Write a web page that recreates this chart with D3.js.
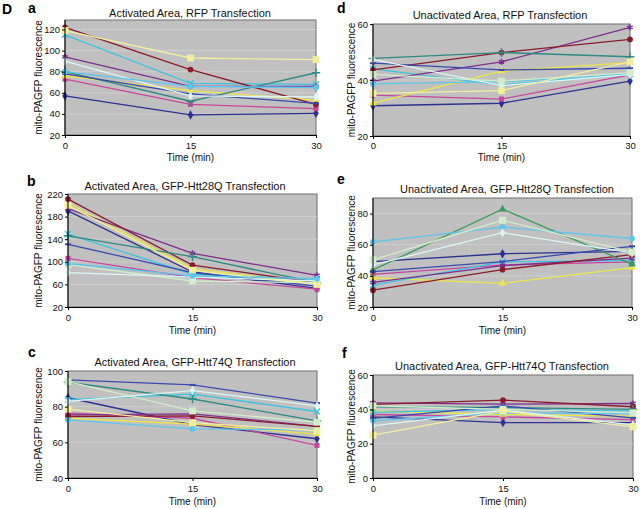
<!DOCTYPE html>
<html><head><meta charset="utf-8">
<script src="https://cdn.jsdelivr.net/npm/d3@7"></script>
<style>body{margin:0;background:#fff}svg{display:block;font-family:"Liberation Sans",Arial,sans-serif}</style>
</head><body>
<svg id="chart" width="640" height="509"></svg>
<script>
// ---- data ----
const times = [0, 15, 30];
const xTickLabels = ["0", "15", "30"];

const aKeys = ["navy","magenta","yellow","cyan","purple","darkred","teal","blue","lightcyan","lightyellow","sky"];
const aValues = [[57,39,40.5],[73,49,45],[76,62,53],[115,69,68],[94,66,66],[122,82,49],[80,52,79],[78,59,50],[90,57,56],[119,93,91.5],[80,66,65]];
const aTicks = [20,40,60,80,100,120];

const dKeys = ["navy","magenta","yellow","cyan","purple","darkred","teal","blue","sky","lightcyan","lightgreen","lightyellow"];
const dValues = [[30.8,31.7,39.6],[34.6,33.2,41.8],[31.7,43.2,46.2],[44,38.2,42.4],[39.6,46.5,58.8],[43.6,49.8,54.5],[47.7,49.8,48.3],[46,43.6,44.2],[38.6,39.4,41.8],[47.4,38,42],[42,39.6,42.6],[35.2,36.2,46.5]];
const dTicks = [20,40,60];

const bKeys = ["navy","magenta","yellow","cyan","purple","darkred","teal","blue","lightgreen","lightcyan","lightyellow","sky"];
const bValues = [[190,82,53],[106,72,51.5],[204,88,61],[149,78,69],[194,115,76],[211,94,63],[146,109,63],[131,81,57],[95,66,63],[81,73,66],[200,85,60],[97,75,70]];
const bTicks = [20,60,100,140,180,220];

const eKeys = ["navy","magenta","yellow","cyan","purple","darkred","green","blue","sky","lightcyan","lightgreen"];
const eValues = [[49.2,54.2,55.7],[41,47,49],[38.8,35.2,45.3],[34,49,50],[35.8,46.6,51.4],[30.8,44,53.6],[43.8,82.8,47.5],[42.7,49.2,59],[61.8,71.3,64],[47,67.7,54.7],[50.3,75.7,55.3]];
const eTicks = [20,40,60,80];

const cKeys = ["navy","magenta","yellow","cyan","purple","darkred","teal","blue","sky","lightcyan","lightgreen","lightyellow"];
const cValues = [[85,70,62],[76.3,73.5,58.3],[73.5,70.2,64.6],[84,87,77.3],[75.4,76,69],[74.5,74.8,69],[93.7,84.3,72],[95,92.2,82],[72.6,67.6,67],[83,89,80.4],[94,77.6,71.3],[78.6,71,66.5]];
const cTicks = [40,60,80,100];

const fKeys = ["navy","magenta","yellow","cyan","purple","darkred","teal","blue","sky","lightcyan","lightgreen","lightyellow"];
const fValues = [[35.6,32.3,32.3],[37,35.6,34],[39,37,36],[38.2,40,39],[43.8,43,43.4],[42.9,45.4,41.5],[41.5,41,40],[34.7,42,35],[33.3,38,37.5],[30.4,39.5,31],[42.1,40,38],[25,39,29.8]];
const fTicks = [0,20,40,60];

// ---- styles ----
const styles = {
  navy:{c:"#2d3191",m:"diamond"}, magenta:{c:"#c8479c",m:"square"}, yellow:{c:"#ece64a",m:"triangle"},
  cyan:{c:"#3fc3e2",m:"times"}, purple:{c:"#7e2e8e",m:"asterisk"}, darkred:{c:"#8a1d2c",m:"circle"},
  teal:{c:"#2e8a82",m:"plus"}, blue:{c:"#3a49ad",m:"dash"}, sky:{c:"#5cc6ee",m:"circle"},
  lightcyan:{c:"#dcf5f5",m:"diamond"}, lightgreen:{c:"#d3ecc9",m:"square"}, lightyellow:{c:"#f1ef9e",m:"square"},
  green:{c:"#3c9a5c",m:"triangle"}
};

const panels = [
  {L:"a",title:"Activated Area, RFP Transfection",keys:aKeys,vals:aValues,ticks:aTicks,dom:[20,129],box:[65,316,20,135],tx:190,ty:16.5,lx:28,ly:13,ylx:38,xp:4,tly:161},
  {L:"d",title:"Unactivated Area, RFP Transfection",keys:dKeys,vals:dValues,ticks:dTicks,dom:[20,60],box:[373,630,24,136],tx:500,ty:19,lx:337,ly:12.5,ylx:351,xp:3,tly:161},
  {L:"b",title:"Activated Area, GFP-Htt28Q Transfection",keys:bKeys,vals:bValues,ticks:bTicks,dom:[20,220],box:[68,317,194,307],tx:185,ty:190,lx:27,ly:186,ylx:38,xp:4,tly:333.5},
  {L:"e",title:"Unactivated Area, GFP-Htt28Q Transfection",keys:eKeys,vals:eValues,ticks:eTicks,dom:[20,90],box:[373,632,198,307],tx:507,ty:193,lx:337,ly:184,ylx:351,xp:4,tly:334},
  {L:"c",title:"Activated Area, GFP-Htt74Q Transfection",keys:cKeys,vals:cValues,ticks:cTicks,dom:[40,100],box:[68,317,371,478],tx:195,ty:366,lx:28,ly:357,ylx:38,xp:4,tly:505},
  {L:"f",title:"Unactivated Area, GFP-Htt74Q Transfection",keys:fKeys,vals:fValues,ticks:fTicks,dom:[0,60],box:[373,633,375,478],tx:502,ty:370,lx:342,ly:358,ylx:351,xp:4,tly:505}
];

const svg = d3.select("#chart");
svg.append("text").attr("x",2).attr("y",14).attr("font-size",14).attr("font-weight","bold").text("D");

const symMap = {diamond:d3.symbolDiamond,square:d3.symbolSquare,triangle:d3.symbolTriangle,circle:d3.symbolCircle,
  times:d3.symbolTimes,asterisk:d3.symbolAsterisk,plus:d3.symbolPlus};
const strokeSyms = new Set(["times","asterisk","plus"]);

panels.forEach(p => {
  const [x0,x1,y0,y1] = p.box;
  const x = d3.scaleLinear().domain([0,30]).range([x0,x1]);
  const y = d3.scaleLinear().domain(p.dom).range([y1,y0]);
  const g = svg.append("g");
  g.append("rect").attr("x",x0).attr("y",y0).attr("width",x1-x0).attr("height",y1-y0)
    .attr("fill","#c0c0c0").attr("stroke","#6e6e6e").attr("stroke-width",1);
  g.selectAll(".grid").data(p.ticks.filter(t => t!==p.dom[0] && y(t)>y0+1)).join("line")
    .attr("x1",x0).attr("x2",x1).attr("y1",d=>y(d)).attr("y2",d=>y(d))
    .attr("stroke","#d2d2d2").attr("stroke-width",0.8);

  const line = d3.line().x((d,i)=>x(times[i])).y(d=>y(d));
  p.keys.forEach((k,si) => {
    const st = styles[k]; const v = p.vals[si];
    g.append("path").attr("d",line(v)).attr("fill","none").attr("stroke",st.c).attr("stroke-width",1.3);
    v.forEach((val,i) => {
      const cx = x(times[i]), cy = y(val);
      if (st.m === "dash") {
        g.append("line").attr("x1",cx-3).attr("x2",cx+3).attr("y1",cy).attr("y2",cy).attr("stroke",st.c).attr("stroke-width",2);
      } else {
        const big = (k==="lightyellow"||k==="lightgreen") ? 48 : 26;
        const s = d3.symbol().type(symMap[st.m]).size(big);
        const el = g.append("path").attr("d",s()).attr("transform",`translate(${cx},${cy})`);
        if (strokeSyms.has(st.m)) el.attr("fill","none").attr("stroke",st.c).attr("stroke-width",1.4);
        else el.attr("fill",st.c);
      }
    });
  });

  const ya = d3.axisLeft(y).tickValues(p.ticks).tickSize(3).tickSizeOuter(0).tickPadding(2);
  const yg = svg.append("g").attr("transform",`translate(${x0},0)`).call(ya);
  yg.select(".domain").attr("stroke","#000").attr("d",`M0,${y0}V${y1}`);
  const xa = d3.axisBottom(x).tickValues(times).tickFormat((d,i)=>xTickLabels[i]).tickSize(3).tickSizeOuter(0).tickPadding(p.xp);
  const xg = svg.append("g").attr("transform",`translate(0,${y1})`).call(xa);
  xg.select(".domain").attr("stroke","#000");
  [yg,xg].forEach(a => { a.selectAll("text").attr("font-size",9.5).attr("fill","#111").attr("font-family","Liberation Sans, Arial, sans-serif"); a.selectAll(".tick line").attr("stroke","#000"); });

  svg.append("text").attr("x",p.tx).attr("y",p.ty).attr("text-anchor","middle").attr("font-size",11).attr("fill","#111").text(p.title);
  svg.append("text").attr("x",p.lx).attr("y",p.ly).attr("font-size",14).attr("font-weight","bold").text(p.L);
  svg.append("text").attr("x",(x0+x1)/2).attr("y",p.tly).attr("text-anchor","middle").attr("font-size",10).attr("fill","#111").text("Time (min)");
  svg.append("text").attr("transform",`translate(${p.ylx},${(y0+y1)/2}) rotate(-90)`).attr("text-anchor","middle")
    .attr("dominant-baseline","central").attr("font-size",10).attr("fill","#111").text("mito-PAGFP fluorescence");
});
</script>
</body></html>
